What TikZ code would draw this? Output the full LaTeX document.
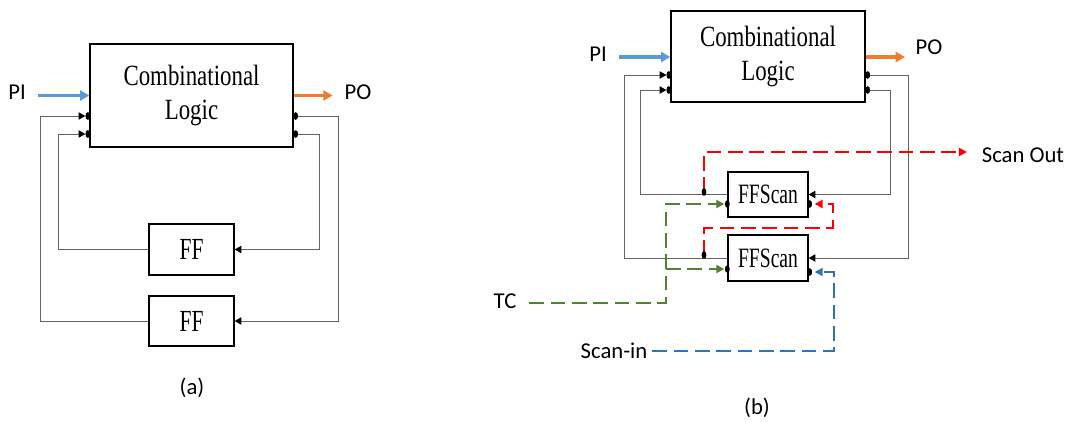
\documentclass[tikz,border=0pt]{standalone}
\usepackage{fontspec}
\setmainfont{Carlito}
\newfontfamily\serifc[FakeStretch=0.78]{Liberation Serif}
\newfontfamily\seriff[FakeStretch=0.7]{Liberation Serif}
\usetikzlibrary{arrows.meta,calc}
\def\px{0.75pt}
\definecolor{piblue}{RGB}{91,155,213}
\definecolor{poorange}{RGB}{237,125,49}
\definecolor{tcgreen}{RGB}{84,130,53}
\definecolor{siblue}{RGB}{46,117,182}
\definecolor{wirecol}{RGB}{100,100,100}
\newcommand\pindot[1]{\fill[black] #1 ellipse [x radius=1.8pt, y radius=2.9pt];}
\begin{document}
\begin{tikzpicture}[x=0.75pt,y=-0.75pt,
  blk/.style={draw=black,line width=1pt,inner sep=0pt,fill=white,align=center},
  combbox/.style={blk,font=\serifc\fontsize{22}{26}\selectfont},
  ffbox/.style={blk,font=\seriff\fontsize{23}{26}\selectfont},
  ffsbox/.style={blk,font=\seriff\fontsize{21}{24}\selectfont},
  lab/.style={inner sep=2pt,font=\fontsize{17}{20}\selectfont},
  wire/.style={draw=wirecol,line width=0.7pt},
  wtip/.style={-{Triangle[length=5pt,width=5.5pt,color=black]}},
  piarr/.style={draw=piblue,line width=2.4pt,-{Triangle[length=7pt,width=7.5pt]}},
  poarr/.style={draw=poorange,line width=2.4pt,-{Triangle[length=7pt,width=7.5pt]}},
  dtip/.style={-{Triangle[length=6pt,width=6pt]}},
  dpat/.style={line width=1.7pt,dash pattern=on 11pt off 5pt,dtip},
  scanred/.style={draw=red,dpat},
  tcline/.style={draw=tcgreen,dpat},
  siline/.style={draw=siblue,dpat}]
\useasboundingbox (0,0) rectangle (1069,421);

% ---------------- (a) ----------------
\node[combbox,minimum width=203*\px,minimum height=103*\px] (cla) at (191.5,95.5) {Combinational\\Logic};
\node[ffbox,minimum width=85*\px,minimum height=51*\px] (ffa1) at (191.5,249.5) {FF};
\node[ffbox,minimum width=85*\px,minimum height=50*\px] (ffa2) at (191.5,321) {FF};
\node[lab] (pia) at (17,92) {PI};
\node[lab] (poa) at (358,92) {PO};
\node[lab] (capa) at (192,388) {(a)};

\draw[piarr] ($(pia.east |- cla.west)+(9,0)$) -- (cla.west);
\draw[poarr] (cla.east) -- ($(poa.west |- cla.east)+(-9,0)$);

\draw[wire,wtip] (ffa2.west) -| (40,116) -- ($(cla.west |- 0,116)+(-4,0)$);
\draw[wire,wtip] (ffa1.west) -| (58,134) -- ($(cla.west |- 0,134)+(-4,0)$);
\draw[wire,wtip] ($(cla.east |- 0,116)+(2,0)$) -- (338,116) |- (ffa2.east);
\draw[wire,wtip] ($(cla.east |- 0,134)+(2,0)$) -- (319,134) |- (ffa1.east);
\pindot{($(cla.west |- 0,116)+(-1.5,0)$)}
\pindot{($(cla.west |- 0,134)+(-1.5,0)$)}
\pindot{($(cla.east |- 0,116)+(2,0)$)}
\pindot{($(cla.east |- 0,134)+(2,0)$)}

% ---------------- (b) ----------------
\node[combbox,minimum width=194*\px,minimum height=91*\px] (clb) at (768,56.5) {Combinational\\Logic};
\node[ffsbox,minimum width=80*\px,minimum height=45*\px] (fs1) at (768,194.5) {FFScan};
\node[ffsbox,minimum width=80*\px,minimum height=46*\px] (fs2) at (768,258) {FFScan};
\node[lab] (pib) at (598,54) {PI};
\node[lab] (pob) at (929,47) {PO};
\node[lab] (tc) at (505,301) {TC};
\node[lab] (si) at (614,351) {Scan-in};
\node[lab] (so) at (1023,155) {Scan Out};
\node[lab] (capb) at (757,408) {(b)};

\draw[piarr] ($(pib.east)+(9,3)$) -- (clb.west |- 0,57);
\draw[poarr] (clb.east |- 0,57) -- (905,57);

\draw[wire,wtip] (fs1.west) -| (640,90) -- ($(clb.west |- 0,90)+(-4,0)$);
\draw[wire,wtip] (fs2.west) -| (624,75) -- ($(clb.west |- 0,75)+(-4,0)$);
\draw[wire,wtip] ($(clb.east |- 0,75)+(2,0)$) -- (908,75) |- (fs2.east);
\draw[wire,wtip] ($(clb.east |- 0,90)+(2,0)$) -- (890,90) |- (fs1.east);
\pindot{($(clb.west |- 0,75)+(-1.5,0)$)}
\pindot{($(clb.west |- 0,90)+(-1.5,0)$)}
\pindot{($(clb.east |- 0,75)+(2,0)$)}
\pindot{($(clb.east |- 0,90)+(2,0)$)}

% scan chain
\coordinate (r1) at (704,192);
\coordinate (r2) at (704,255);
\coordinate (tcb) at (666,269);
\draw[scanred] (r1) -- (704,152) -- ($(so.west |- 0,152)+(-12,0)$);
\draw[scanred] (r2) |- (833,228) |- ($(fs1.east |- 0,204)+(6,0)$);
\draw[tcline] ($(tc.east)+(10,2)$) -| (666,204) -- ($(fs1.west |- 0,204)+(-3,0)$);
\draw[tcline] (tcb) -- ($(fs2.west |- 0,269)+(-3,0)$);
\draw[siline] ($(si.east)+(2,0)$) -| (834,272) -- ($(fs2.east |- 0,272)+(6,0)$);
\pindot{(r1)}
\pindot{(r2)}
\pindot{(fs1.west |- 0,204)}
\pindot{(fs2.west |- 0,269)}
\pindot{($(fs1.east |- 0,204)+(1,0)$)}
\pindot{($(fs2.east |- 0,272)+(1,0)$)}
\end{tikzpicture}
\end{document}
